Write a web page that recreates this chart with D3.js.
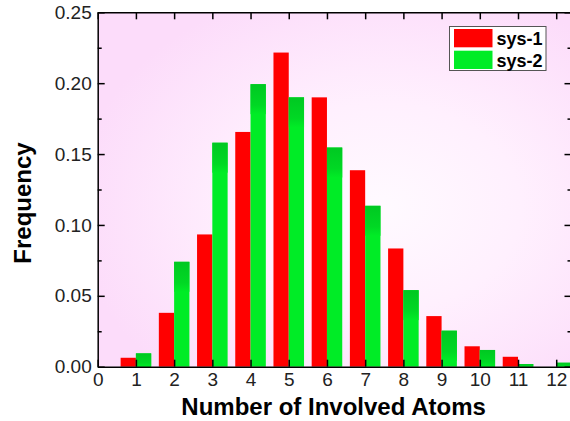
<!DOCTYPE html>
<html>
<head>
<meta charset="utf-8">
<script src="https://cdn.jsdelivr.net/npm/d3@7"></script>
<style>
  body { margin: 0; background: #fff; }
  svg { display: block; font-family: "Liberation Sans", Arial, sans-serif; }
  .tick text { font-size: 19px; fill: #222; }
  .axis path, .axis line { stroke: #000; stroke-width: 1.5; }
</style>
</head>
<body>
<svg id="chart" width="570" height="421"></svg>
<script>
// Data
const categories = [1, 2, 3, 4, 5, 6, 7, 8, 9, 10, 11, 12];
const sys1 = [0.0063, 0.038, 0.0933, 0.1656, 0.2216, 0.190, 0.1386, 0.0834, 0.0357, 0.0144, 0.007, 0];
const sys2 = [0.0094, 0.074, 0.158, 0.1993, 0.190, 0.1546, 0.1135, 0.054, 0.0254, 0.0118, 0.0019, 0.0028];
const xTicks = [0, 1, 2, 3, 4, 5, 6, 7, 8, 9, 10, 11, 12];
const yTicks = [0, 0.05, 0.10, 0.15, 0.20, 0.25];
const yMinor = [0.025, 0.075, 0.125, 0.175, 0.225];
const seriesNames = ['sys-1', 'sys-2'];
const seriesColors = ['#ff0000', '#00ec26'];

const svg = d3.select('#chart');
const mLeft = 97.7, mRight = 571.5, mTop = 12.3, mBottom = 366.7;
const barW = 0.4;

const x = d3.scaleLinear().domain([0, 12.4]).range([mLeft, mRight]);
const y = d3.scaleLinear().domain([0, 0.25]).range([mBottom, mTop]);

// Gradients
const defs = svg.append('defs');
const bg = defs.append('radialGradient')
    .attr('id', 'bg')
    .attr('cx', 0.6).attr('cy', 0.55).attr('r', 0.65);
bg.append('stop').attr('offset', 0).attr('stop-color', '#fffaff');
bg.append('stop').attr('offset', 0.45).attr('stop-color', '#fff0fe');
bg.append('stop').attr('offset', 1).attr('stop-color', '#fcdcfa');

const gTop = defs.append('linearGradient')
    .attr('id', 'greenTop')
    .attr('x1', 0).attr('y1', 0).attr('x2', 0).attr('y2', 1);
gTop.append('stop').attr('offset', 0).attr('stop-color', '#00c822');
gTop.append('stop').attr('offset', 0.7).attr('stop-color', '#00d824');
gTop.append('stop').attr('offset', 1).attr('stop-color', '#00ec26');

// Plot background
svg.append('rect')
    .attr('x', mLeft).attr('y', mTop)
    .attr('width', mRight - mLeft).attr('height', mBottom - mTop)
    .attr('fill', 'url(#bg)');

// Bars
const plot = svg.append('g');

plot.selectAll('.bar1')
  .data(categories)
  .join('rect')
    .attr('class', 'bar1')
    .attr('x', d => x(d - barW))
    .attr('width', (d) => x(d) - x(d - barW))
    .attr('y', (d, i) => y(sys1[i]))
    .attr('height', (d, i) => y(0) - y(sys1[i]))
    .attr('fill', seriesColors[0]);

plot.selectAll('.bar2')
  .data(categories)
  .join('rect')
    .attr('class', 'bar2')
    .attr('x', d => x(d))
    .attr('width', (d) => x(d + barW) - x(d))
    .attr('y', (d, i) => y(sys2[i]))
    .attr('height', (d, i) => y(0) - y(sys2[i]))
    .attr('fill', seriesColors[1]);

// darker band at the top of the green bars
plot.selectAll('.bar2top')
  .data(categories)
  .join('rect')
    .attr('class', 'bar2top')
    .attr('x', d => x(d))
    .attr('width', (d) => x(d + barW) - x(d))
    .attr('y', (d, i) => y(sys2[i]))
    .attr('height', (d, i) => Math.min(30, y(0) - y(sys2[i])))
    .attr('fill', 'url(#greenTop)');

// Axes
svg.append('g')
    .attr('class', 'axis')
    .attr('transform', `translate(${mLeft},0)`)
    .call(d3.axisLeft(y).tickValues(yTicks).tickFormat(d3.format('.2f'))
      .tickSizeInner(-7).tickSizeOuter(0).tickPadding(6));

svg.append('g')
    .attr('class', 'axis')
    .attr('transform', `translate(${mLeft},0)`)
    .call(d3.axisLeft(y).tickValues(yMinor).tickFormat('')
      .tickSizeInner(-4).tickSizeOuter(0))
    .select('.domain').remove();

svg.append('g')
    .attr('class', 'axis')
    .attr('transform', `translate(${mRight},0)`)
    .call(d3.axisRight(y).tickValues(yTicks).tickFormat('')
      .tickSizeInner(-7).tickSizeOuter(0));

svg.append('g')
    .attr('class', 'axis')
    .attr('transform', `translate(${mRight},0)`)
    .call(d3.axisRight(y).tickValues(yMinor).tickFormat('')
      .tickSizeInner(-4).tickSizeOuter(0))
    .select('.domain').remove();

svg.append('g')
    .attr('class', 'axis')
    .attr('transform', `translate(0,${mBottom})`)
    .call(d3.axisBottom(x).tickValues(xTicks).tickFormat(d3.format('d'))
      .tickSizeInner(-7).tickSizeOuter(0).tickPadding(6));

svg.append('g')
    .attr('class', 'axis')
    .attr('transform', `translate(0,${mTop})`)
    .call(d3.axisTop(x).tickValues(xTicks).tickFormat('')
      .tickSizeInner(-7).tickSizeOuter(0));

// Axis titles
svg.append('text')
    .attr('x', (mLeft + mRight) / 2 - 1)
    .attr('y', 415)
    .attr('text-anchor', 'middle')
    .style('font-size', '24px')
    .style('font-weight', 'bold')
    .text('Number of Involved Atoms');

svg.append('text')
    .attr('transform', 'translate(31,203) rotate(-90)')
    .attr('text-anchor', 'middle')
    .style('font-size', '24px')
    .style('font-weight', 'bold')
    .text('Frequency');

// Legend
const legend = svg.append('g');
legend.append('rect')
    .attr('x', 449.5).attr('y', 26.5)
    .attr('width', 96.5).attr('height', 44)
    .attr('fill', '#fff')
    .attr('stroke', '#555')
    .attr('stroke-width', 1);

legend.selectAll('.sw')
  .data(seriesNames)
  .join('rect')
    .attr('class', 'sw')
    .attr('x', 454)
    .attr('y', (d, i) => 29 + i * 21.7)
    .attr('width', 38.5)
    .attr('height', 18.3)
    .attr('fill', (d, i) => seriesColors[i]);

legend.selectAll('.lt')
  .data(seriesNames)
  .join('text')
    .attr('class', 'lt')
    .attr('x', 496.5)
    .attr('y', (d, i) => 45 + i * 21.7)
    .style('font-size', '18px')
    .style('font-weight', 'bold')
    .text(d => d);
</script>
</body>
</html>
